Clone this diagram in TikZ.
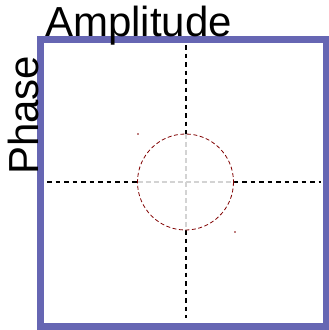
\documentclass[tikz,border=0pt]{standalone}
\usepackage{fontspec}
\setmainfont{Liberation Sans}
\definecolor{framec}{RGB}{102,102,179}
\definecolor{circc}{RGB}{128,0,0}
\definecolor{gridg}{RGB}{211,211,211}
\begin{document}
\begin{tikzpicture}[x=1pt,y=-1pt,
  frame/.style={draw=framec,line width=7.5pt},
  axisblack/.style={draw=black,line width=2pt,dash pattern=on 4.5pt off 4pt},
  axisgray/.style={draw=gridg,line width=2pt,dash pattern=on 5pt off 3pt},
  circdash/.style={draw=circc,line width=0.8pt,dash pattern=on 4pt off 2.5pt},
  lbl/.style={inner sep=0pt,font=\fontsize{42}{42}\selectfont}]
\useasboundingbox (0,0) rectangle (329,330);
\draw[frame] (40.5,39.5) rectangle (327,327);
\coordinate (c) at (185.5,182);
\coordinate (top) at (185.5,45);
\coordinate (bot) at (185.5,318);
\coordinate (lft) at (47,182);
\coordinate (rgt) at (321,182);
\coordinate (ct) at (185.5,134);
\coordinate (cb) at (185.5,230);
\coordinate (cl) at (137.5,182);
\coordinate (cr) at (233.5,182);
\draw[axisblack] (top) -- (ct);
\draw[axisblack] (cb) -- (bot);
\draw[axisblack] (lft) -- (cl);
\draw[axisblack] (cr) -- (rgt);
\draw[axisgray] (ct) -- (cb);
\draw[axisgray] (cl) -- (cr);
\draw[circdash] (c) circle (48);
\fill[circc] (138,134) circle (0.8);
\fill[circc] (235,232) circle (0.8);
\node[lbl,anchor=base west] (amp) at (45,36) {Amplitude};
\node[lbl,anchor=base west,rotate=90] (ph) at (38,175) {Phase};
\end{tikzpicture}
\end{document}
